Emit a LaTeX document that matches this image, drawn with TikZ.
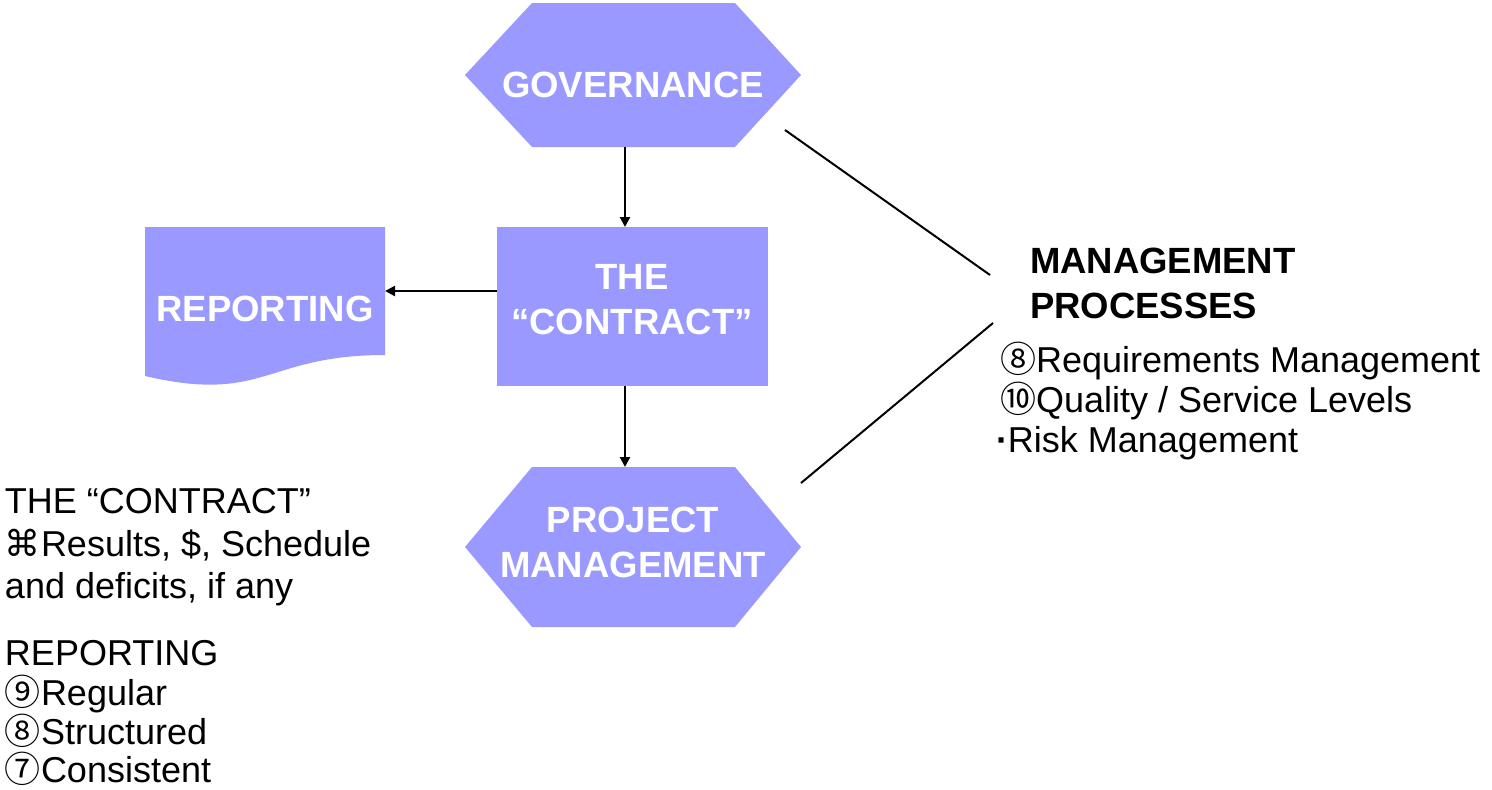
\documentclass[tikz,border=0pt]{standalone}
\usepackage{fontspec}
\setmainfont{Liberation Sans}
\newfontfamily\dv{DejaVu Sans}
\newfontfamily\cj{Noto Sans CJK JP}
\usetikzlibrary{arrows.meta,calc}
\definecolor{shapefill}{RGB}{153,153,255}
\begin{document}
\begin{tikzpicture}[x=1pt,y=-1pt,
  txt/.style={font=\fontsize{36}{44}\selectfont, inner sep=0, outer sep=0, anchor=base west},
  btxt/.style={txt, font=\fontsize{36.5}{44}\selectfont\bfseries},
  wtxt/.style={font=\fontsize{36.5}{44}\selectfont\bfseries, text=white, inner sep=0, outer sep=0, anchor=base},
  arr/.style={line width=2.2pt, -{Triangle[length=10pt,width=10pt]}},
  conn/.style={line width=2pt},
  hexa/.style={minimum width=336pt, inner sep=0, outer sep=0,
    path picture={\fill[shapefill]
      ([xshift=67pt]path picture bounding box.north west) --
      ([xshift=-66pt]path picture bounding box.north east) --
      (path picture bounding box.east) --
      ([xshift=-66pt]path picture bounding box.south east) --
      ([xshift=67pt]path picture bounding box.south west) --
      (path picture bounding box.west) -- cycle;}},
  boxx/.style={fill=shapefill, inner sep=0, outer sep=0},
  docshape/.style={inner sep=0, outer sep=0, minimum width=240pt, minimum height=160pt}
]
\useasboundingbox (0,0) rectangle (1492,790);

% shapes
\fill[shapefill] (145,227) -- (385,227) -- (385,355)
      .. controls (265,355) and (265,404) .. (145,376) -- cycle;
\node[docshape] (rep) at (265,307) {};
\node[hexa, minimum height=144pt] (gov) at (633,75) {};
\node[boxx, minimum width=271pt, minimum height=159pt] (con) at (632.5,306.5) {};
\node[hexa, minimum height=160pt] (pm) at (633,547) {};

% texts in shapes
\node[wtxt] (govt) at ([yshift=-22pt]gov.center) {GOVERNANCE};
\node[wtxt] (cont1) at (632,289) {THE};
\node[wtxt] (cont2) at (632,334) {“CONTRACT”};
\node[wtxt] (rept) at (265,321) {REPORTING};
\node[wtxt] (pmt1) at (633,532) {PROJECT};
\node[wtxt] (pmt2) at (633,577) {MANAGEMENT};

% arrows
\draw[arr] ([xshift=-8pt]gov.south) -- ([xshift=-8pt]gov.south |- con.north);
\draw[arr] ([yshift=15.5pt]con.west) -- ([yshift=15.5pt]con.west -| rep.east);
\draw[arr] ([xshift=-7.5pt]con.south) -- ([xshift=-7.5pt]con.south |- pm.north);

% management process lines
\coordinate (g1) at (785,130);
\coordinate (m1) at (990,275);
\coordinate (p1) at (801,483);
\coordinate (m2) at (993,323);
\draw[conn] (g1) -- (m1);
\draw[conn] (p1) -- (m2);

% right text
\node[btxt] (mp1) at (1030,273) {MANAGEMENT};
\node[btxt] (mp2) at (1030,318) {PROCESSES};
\node[txt] (mp3) at (1000,372) {{\cj ⑧}Requirements Management};
\node[txt] (mp4) at (1000,412) {{\cj ⑩}Quality / Service Levels};
\node[txt] (mp5) at (996,452) {\textbf{·}Risk Management};

% left text
\node[txt] (l1) at (5,513) {THE “CONTRACT”};
\node[txt] (l2) at (5,556) {{\dv ⌘}Results, \$, Schedule};
\node[txt] (l3) at (5,598) {and deficits, if any};
\node[txt] (l4) at (5,665) {REPORTING};
\node[txt] (l5) at (5,705) {{\cj ⑨}Regular};
\node[txt] (l6) at (5,744) {{\cj ⑧}Structured};
\node[txt] (l7) at (5,782) {{\cj ⑦}Consistent};
\end{tikzpicture}
\end{document}
